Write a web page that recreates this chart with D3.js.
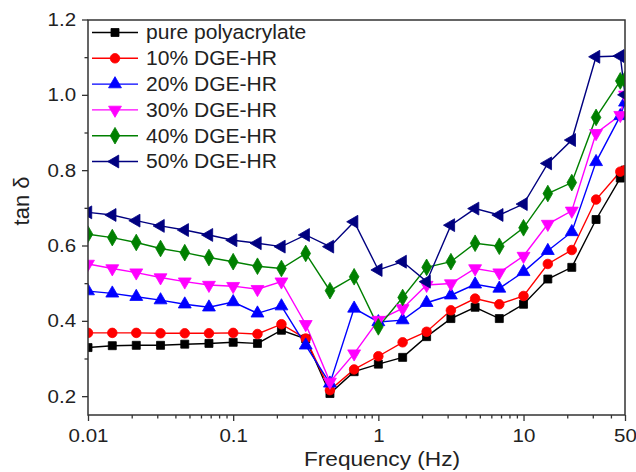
<!DOCTYPE html>
<html><head><meta charset="utf-8">
<script src="https://cdn.jsdelivr.net/npm/d3@7"></script>
<style>body{margin:0;background:#fff}svg{display:block}text{font-family:"Liberation Sans",Arial,sans-serif;fill:#222}</style>
</head><body><svg id="c" width="636" height="472"></svg>
<script>
const freqs = [0.01,0.0147,0.0215,0.0316,0.0464,0.0681,0.1,0.147,0.215,0.316,0.464,0.681,1,1.47,2.15,3.16,4.64,6.81,10,14.7,21.5,31.6,46.4,50];
const pure  = [0.329,0.334,0.335,0.335,0.338,0.340,0.343,0.340,0.375,0.352,0.207,0.265,0.285,0.303,0.358,0.406,0.436,0.406,0.444,0.511,0.542,0.669,0.779,0.80];
const dge10 = [0.368,0.368,0.368,0.367,0.367,0.367,0.368,0.365,0.391,0.353,0.216,0.271,0.306,0.343,0.371,0.428,0.459,0.444,0.466,0.551,0.588,0.722,0.796,0.80];
const dge20 = [0.479,0.473,0.464,0.455,0.444,0.436,0.450,0.420,0.439,0.335,0.234,0.433,0.397,0.402,0.448,0.468,0.497,0.486,0.530,0.586,0.636,0.822,0.944,0.98];
const dge30 = [0.551,0.539,0.528,0.515,0.504,0.495,0.492,0.484,0.504,0.391,0.238,0.313,0.402,0.433,0.495,0.499,0.539,0.528,0.572,0.657,0.692,0.898,0.946,1.0];
const dge40 = [0.630,0.621,0.608,0.592,0.581,0.568,0.557,0.545,0.539,0.579,0.480,0.517,0.384,0.462,0.542,0.557,0.606,0.598,0.647,0.738,0.767,0.940,1.037,1.04];
const dge50 = [0.688,0.681,0.666,0.652,0.641,0.628,0.614,0.606,0.597,0.628,0.597,0.663,0.535,0.557,0.504,0.654,0.698,0.681,0.710,0.818,0.880,1.101,1.103,1.0];
const seriesNames = ["pure polyacrylate","10% DGE-HR","20% DGE-HR","30% DGE-HR","40% DGE-HR","50% DGE-HR"];
const seriesValues = [pure,dge10,dge20,dge30,dge40,dge50];
const colors = ["#000000","#ff0000","#0000ff","#ff00ff","#008000","#000080"];
const xTicks = [0.01,0.1,1,10,50];
const xTickLabels = ["0.01","0.1","1","10","50"];
const yTicks = [0.2,0.4,0.6,0.8,1.0,1.2];
const xTitle = "Frequency (Hz)";
const yTitle = "tan δ";

const svg = d3.select("#c");
const L=88,R=625,T=20,B=415;
const SX=1.08;
const x = d3.scaleLog().domain([0.01,50]).range([L,R]);
const y = d3.scaleLinear().domain([0.15,1.2]).range([B,19.5]);

const symbols = [
  {t:d3.symbolSquare,s:64,r:0},
  {t:d3.symbolCircle,s:72,r:0},
  {t:d3.symbolTriangle,s:72,r:0},
  {t:d3.symbolTriangle,s:72,r:180},
  {t:d3.symbolDiamond,s:80,r:0},
  {t:d3.symbolTriangle,s:72,r:-90}
];

svg.append("defs").append("clipPath").attr("id","clip")
  .append("rect").attr("x",L).attr("y",T).attr("width",R-L).attr("height",B-T);

const plot = svg.append("g").attr("clip-path","url(#clip)");
const line = d3.line().x((d,i)=>x(freqs[i])).y(d=>y(d));
seriesValues.forEach((vals,k)=>{
  plot.append("path").attr("d",line(vals)).attr("fill","none").attr("stroke",colors[k]).attr("stroke-width",1.4);
});
seriesValues.forEach((vals,k)=>{
  const sym = d3.symbol().type(symbols[k].t).size(symbols[k].s);
  plot.selectAll(null).data(vals).enter().append("path")
    .attr("d",sym)
    .attr("transform",(d,i)=>`translate(${x(freqs[i])},${y(d)}) rotate(${symbols[k].r})`)
    .attr("fill",colors[k]).attr("stroke",colors[k]).attr("stroke-width",0.8);
});

// axes
const xAxis = d3.axisBottom(x).tickValues(xTicks).tickFormat((d,i)=>xTickLabels[i]).tickSize(6).tickPadding(5);
const gx = svg.append("g").attr("transform",`translate(0,${B})`).call(xAxis);
const minorX = [];
[0.01,0.1,1,10].forEach(dec=>{for(let m=2;m<=9;m++){const v=dec*m; if(v<50) minorX.push(v);}});
const gxm = svg.append("g").attr("transform",`translate(0,${B})`)
  .call(d3.axisBottom(x).tickValues(minorX).tickFormat("").tickSize(3.5));
const yAxis = d3.axisLeft(y).tickValues(yTicks).tickFormat(d3.format(".1f")).tickSize(6).tickPadding(5);
const gy = svg.append("g").attr("transform",`translate(${L},0)`).call(yAxis);
const gym = svg.append("g").attr("transform",`translate(${L},0)`)
  .call(d3.axisLeft(y).tickValues([0.3,0.5,0.7,0.9,1.1]).tickFormat("").tickSize(3.5));
[gx,gxm,gy,gym].forEach(g=>{
  g.select(".domain").remove();
  g.selectAll(".tick line").attr("stroke","#333").attr("stroke-width",1.3);
  g.selectAll(".tick text").attr("font-size",19).attr("fill","#222").attr("font-family","Liberation Sans, Arial, sans-serif");
});
gx.selectAll(".tick text").attr("dy","0.85em").attr("transform",`scale(${SX},1)`);
gy.selectAll(".tick text").attr("transform",`scale(${SX},1)`);

svg.append("rect").attr("x",L).attr("y",T).attr("width",R-L).attr("height",B-T)
  .attr("fill","none").attr("stroke","#333").attr("stroke-width",1.5);

svg.append("text").attr("transform",`translate(382,466) scale(${SX},1)`).attr("text-anchor","middle").attr("font-size",21).text(xTitle);
svg.append("text").attr("transform","translate(29,201) rotate(-90)").attr("text-anchor","middle").attr("font-size",22).text(yTitle);

// legend
const lg = svg.append("g");
seriesNames.forEach((name,k)=>{
  const yy = 32.5 + k*25.8;
  lg.append("line").attr("x1",92).attr("x2",138).attr("y1",yy).attr("y2",yy).attr("stroke",colors[k]).attr("stroke-width",1.4);
  lg.append("path").attr("d",d3.symbol().type(symbols[k].t).size(symbols[k].s))
    .attr("transform",`translate(115,${yy}) rotate(${symbols[k].r})`)
    .attr("fill",colors[k]).attr("stroke",colors[k]).attr("stroke-width",0.8);
  lg.append("text").attr("transform",`translate(146,${yy}) scale(${SX},1)`).attr("dy","0.35em").attr("font-size",19.5).text(name);
});
</script></body></html>
